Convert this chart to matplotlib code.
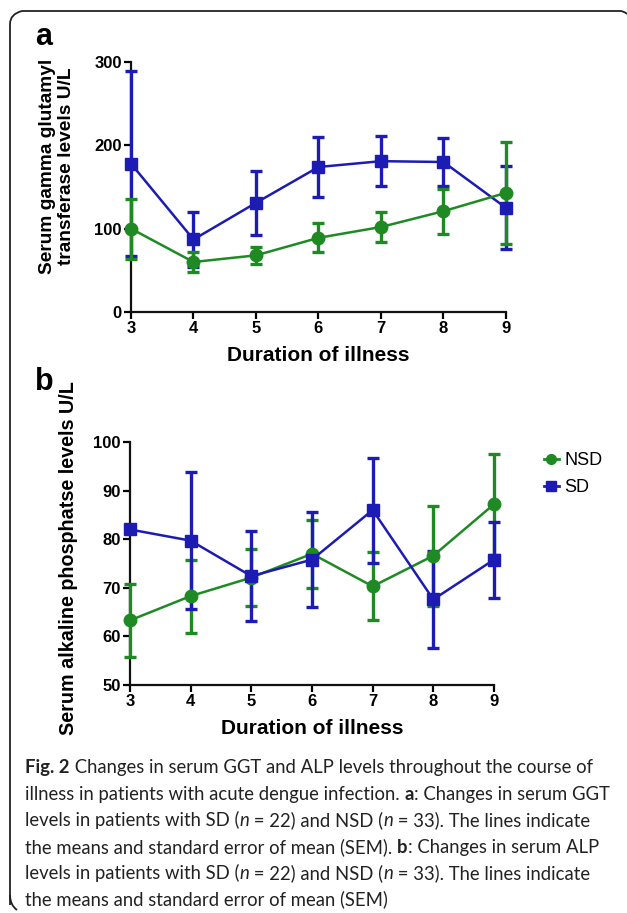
import matplotlib
matplotlib.use("Agg")
import matplotlib.pyplot as plt
from matplotlib.path import Path
from matplotlib.patches import PathPatch
from matplotlib.lines import Line2D

# ---------------- data ----------------
days = [3, 4, 5, 6, 7, 8, 9]

ggt_sd_mean = [178, 87, 131, 174, 181, 180, 125]
ggt_sd_sem = [111, 33, 38.5, 36.5, 30, 29, 50]
ggt_nsd_mean = [100, 60, 68, 89, 102, 121, 143]
ggt_nsd_sem = [36, 12, 10, 17.5, 18, 27, 61.5]

alp_sd_mean = [82.0, 79.7, 72.4, 75.8, 86.0, 67.6, 75.8]
alp_sd_sem = [0.0, 14.1, 9.2, 9.8, 10.8, 10.0, 7.8]
alp_nsd_mean = [63.3, 68.3, 72.1, 77.0, 70.3, 76.6, 87.2]
alp_nsd_sem = [7.5, 7.5, 5.8, 7.0, 7.0, 10.3, 10.4]

ggt_yticks = [0, 100, 200, 300]
alp_yticks = [50, 60, 70, 80, 90, 100]

series_names = ["NSD", "SD"]

# ---------------- style ----------------
W, H = 627, 913
GREEN = "#1f8a24"
BLUE = "#1c1cb4"
AX_FONT = "Liberation Sans"
CAP_FONT = "Lato"

fig = plt.figure(figsize=(W / 100, H / 100), dpi=100)


def fx(px):
    return px / W


def fy(py):
    return 1 - py / H


def style_axes(ax, yticks):
    for s in ["top", "right"]:
        ax.spines[s].set_visible(False)
    for s in ["left", "bottom"]:
        ax.spines[s].set_linewidth(1.6)
        ax.spines[s].set_color("#111111")
    ax.set_xlim(3, 9)
    ax.set_xticks(days)
    ax.set_yticks(yticks)
    ax.set_ylim(yticks[0], yticks[-1])
    ax.tick_params(direction="out", length=5, width=1.6, pad=1.5, labelsize=12)
    for lab in ax.get_xticklabels() + ax.get_yticklabels():
        lab.set_fontfamily(AX_FONT)
        lab.set_fontweight("bold")
    ax.set_xlabel("Duration of illness", fontfamily=AX_FONT, fontweight="bold",
                  fontsize=15, labelpad=7)
    ax.patch.set_alpha(0)


def plot_series(ax, mean, sem, color, marker, label):
    ax.errorbar(days, mean, yerr=sem, color=color, marker=marker, markersize=9,
                linewidth=1.8, elinewidth=2.4, capsize=4, capthick=2.4,
                clip_on=False, label=label, zorder=3)


# panel a
axa = fig.add_axes([fx(131), fy(312), fx(506) - fx(131), fy(62) - fy(312)])
plot_series(axa, ggt_sd_mean, ggt_sd_sem, BLUE, "s", "SD")
plot_series(axa, ggt_nsd_mean, ggt_nsd_sem, GREEN, "o", "NSD")
style_axes(axa, ggt_yticks)

# panel b
axb = fig.add_axes([fx(130), fy(685), fx(494) - fx(130), fy(442) - fy(685)])
plot_series(axb, alp_nsd_mean, alp_nsd_sem, GREEN, "o", "NSD")
plot_series(axb, alp_sd_mean, alp_sd_sem, BLUE, "s", "SD")
style_axes(axb, alp_yticks)

# y labels
fig.text(fx(57), fy(166), "Serum gamma glutamyl\ntransferase levels U/L", rotation=90,
         ha="center", va="center", fontfamily=AX_FONT, fontweight="bold",
         fontsize=13.8, linespacing=1.2)
fig.text(fx(69), fy(558), "Serum alkaline phosphatse levels U/L", rotation=90,
         ha="center", va="center", fontfamily=AX_FONT, fontweight="bold",
         fontsize=14.2)

# panel letters
fig.text(fx(35), fy(45), "a", fontfamily=AX_FONT, fontweight="bold", fontsize=22,
         ha="left", va="baseline")
fig.text(fx(35), fy(390), "b", fontfamily=AX_FONT, fontweight="bold", fontsize=22,
         ha="left", va="baseline")

# legend
colors = {"NSD": GREEN, "SD": BLUE}
markers = {"NSD": "o", "SD": "s"}
handles = [Line2D([0], [0], color=colors[n], marker=markers[n], markersize=7,
                  linewidth=2) for n in series_names]
fig.legend(handles, series_names, loc="upper left",
           bbox_to_anchor=(fx(537), fy(445)), frameon=False, handlelength=0.8,
           handletextpad=0.3, labelspacing=0.55, borderaxespad=0,
           prop={"family": AX_FONT, "size": 13})

# frame
verts = [(10, 905), (10, 24), (10, 14), (22, 11), (32, 11), (620, 11), (624, 11), (627, 14)]
codes = [Path.MOVETO, Path.LINETO, Path.CURVE3, Path.CURVE3, Path.LINETO, Path.LINETO,
         Path.CURVE3, Path.CURVE3]
vb = [(10, 895), (10, 905), (17, 910)]
path = Path([(fx(x), fy(y)) for x, y in verts], codes)
fig.add_artist(PathPatch(path, transform=fig.transFigure, fill=False, lw=1.3,
                         edgecolor="#222222"))
path2 = Path([(fx(x), fy(y)) for x, y in vb], [Path.MOVETO, Path.CURVE3, Path.CURVE3])
fig.add_artist(PathPatch(path2, transform=fig.transFigure, fill=False, lw=1.3,
                         edgecolor="#222222"))

# caption with mixed styles
caption_lines = [
    [("Fig. 2", "bold", "normal"), (" Changes in serum GGT and ALP levels throughout the course of", "normal", "normal")],
    [("illness in patients with acute dengue infection. ", "normal", "normal"), ("a", "bold", "normal"), (": Changes in serum GGT", "normal", "normal")],
    [("levels in patients with SD (", "normal", "normal"), ("n", "normal", "italic"), (" = 22) and NSD (", "normal", "normal"), ("n", "normal", "italic"), (" = 33). The lines indicate", "normal", "normal")],
    [("the means and standard error of mean (SEM). ", "normal", "normal"), ("b", "bold", "normal"), (": Changes in serum ALP", "normal", "normal")],
    [("levels in patients with SD (", "normal", "normal"), ("n", "normal", "italic"), (" = 22) and NSD (", "normal", "normal"), ("n", "normal", "italic"), (" = 33). The lines indicate", "normal", "normal")],
    [("the means and standard error of mean (SEM)", "normal", "normal")],
]
caption_baselines = [773, 800, 826, 853, 879, 905]

renderer = fig.canvas.get_renderer()


def text_width(s, size, weight, style):
    def w(t):
        tt = fig.text(0, 0, t, fontsize=size, fontfamily=CAP_FONT, fontweight=weight,
                      fontstyle=style)
        bb = tt.get_window_extent(renderer)
        tt.remove()
        return bb.width
    return w("X" + s + "X") - w("XX")


def line_width(runs, size):
    return sum(text_width(t, size, wt, st) for t, wt, st in runs)


base = 10
target = 612 - 25
cap_size = base * target / max(line_width(r, base) for r in caption_lines)

for runs, yb in zip(caption_lines, caption_baselines):
    x = 25
    for t, wt, st in runs:
        fig.text(fx(x), fy(yb), t, fontsize=cap_size, fontfamily=CAP_FONT, fontweight=wt,
                 fontstyle=st, ha="left", va="baseline", color="#222222")
        x += text_width(t, cap_size, wt, st)

fig.savefig("out.png", dpi=100)
